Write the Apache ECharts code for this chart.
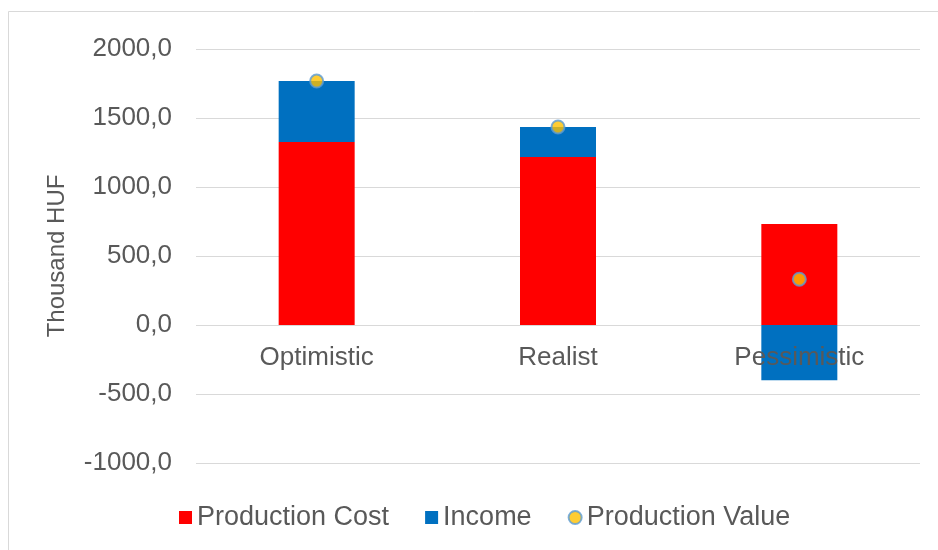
<!DOCTYPE html>
<html>
<head>
<meta charset="utf-8">
<script src="https://cdn.jsdelivr.net/npm/echarts@6/dist/echarts.min.js"></script>
<style>html,body{margin:0;padding:0;background:#fff;}#c{width:938px;height:550px;}</style>
</head>
<body>
<div id="c"></div>
<script>
const categories = ['Optimistic', 'Realist', 'Pessimistic'];
const productionCost = [1326, 1217, 732];
const income = [442, 218, -400];
const productionValue = [1768, 1435, 332];
const yTicks = { min: -1000, max: 2000, interval: 500 };

const chart = echarts.init(document.getElementById('c'));
const font = '"Liberation Sans", Arial, sans-serif';
const txt = '#595959';
chart.setOption({
  animation: false,
  backgroundColor: '#fff',
  graphic: [{
    type: 'rect', left: 6, top: 9, shape: { width: 940, height: 560 },
    style: { fill: 'none', stroke: '#d9d9d9', lineWidth: 1 }, silent: true
  }],
  grid: { left: 196, right: 18, top: 49, bottom: 87, containLabel: false },
  legend: {
    left: 174, top: 499, itemWidth: 13, itemHeight: 13, itemGap: 36,
    textStyle: { fontFamily: font, fontSize: 27, color: txt },
    data: [
      { name: 'Production Cost', icon: 'rect' },
      { name: 'Income', icon: 'rect' },
      { name: 'Production Value', icon: 'circle' }
    ]
  },
  xAxis: {
    type: 'category', data: categories,
    offset: -138, z: 10,
    axisLine: { show: false, onZero: false },
    axisTick: { show: false },
    axisLabel: { fontFamily: font, fontSize: 26, color: txt, margin: 20 }
  },
  yAxis: {
    type: 'value', min: yTicks.min, max: yTicks.max, interval: yTicks.interval,
    name: 'Thousand HUF', nameLocation: 'middle', nameGap: 127,
    nameTextStyle: { fontFamily: font, fontSize: 24, color: txt },
    axisLine: { show: false }, axisTick: { show: false },
    axisLabel: {
      fontFamily: font, fontSize: 26, color: txt, margin: 24,
      formatter: v => v.toFixed(1).replace('.', ',')
    },
    splitLine: { lineStyle: { color: '#d9d9d9', width: 1 } }
  },
  series: [
    { name: 'Production Cost', type: 'bar', stack: 'a', barWidth: 76, data: productionCost,
      itemStyle: { color: '#FF0000' } },
    { name: 'Income', type: 'bar', stack: 'a', barWidth: 76, data: income,
      itemStyle: { color: '#0070C0' } },
    { name: 'Production Value', type: 'scatter', data: productionValue, symbol: 'circle', symbolSize: 13,
      itemStyle: { color: '#FFC000', borderColor: '#5B9BD5', borderWidth: 2 }, z: 5 }
  ]
});
</script>
</body>
</html>
